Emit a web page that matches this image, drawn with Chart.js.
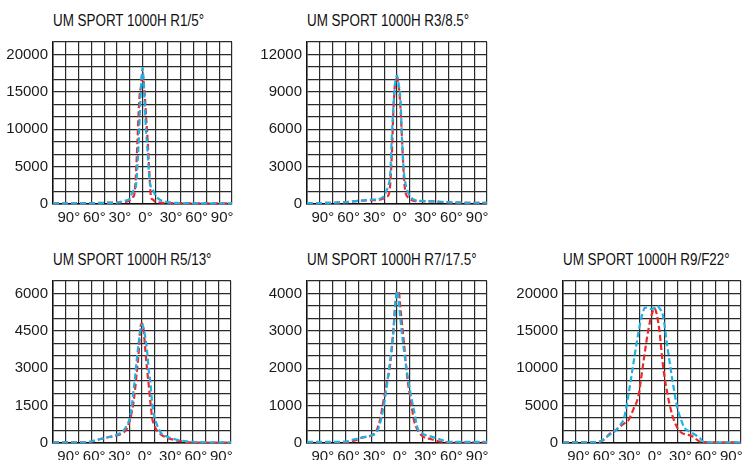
<!DOCTYPE html>
<html>
<head>
<meta charset="utf-8">
<script src="https://cdn.jsdelivr.net/npm/chart.js@4.4.0/dist/chart.umd.min.js"></script>
<style>
html,body{margin:0;padding:0;background:#fff;overflow:hidden;width:746px;height:460px}
.t{position:absolute;font-family:"Liberation Sans",Arial,sans-serif;font-size:16px;line-height:16px;color:#111;white-space:nowrap;transform-origin:0 0}
canvas{position:absolute}
</style>
</head>
<body>
<script>
/* Beam profiles, UM SPORT 1000H optics — two planes per optic (cyan / red) */
const TITLES = ['UM SPORT 1000H R1/5°','UM SPORT 1000H R3/8.5°','UM SPORT 1000H R5/13°','UM SPORT 1000H R7/17.5°','UM SPORT 1000H R9/F22°'];

const X_LABEL_ANGLES = [-90,-60,-30,0,30,60,90];
const X_LABELS = ['90°','60°','30°','0°','30°','60°','90°'];

// R1/5°
const r1Angles = [-105,-90,-60,-40,-30,-20,-15,-12,-10,-8,-6,-4,-3,-2,-1,0,1,2,3,4,6,8,10,12,15,20,30,40,60,90,105];
const r1Cyan   = [80,80,100,150,200,450,700,1500,1900,2200,5000,9500,12500,15000,17000,18200,17000,15000,12500,10000,7000,3500,2200,1900,1200,600,250,150,100,80,80];
const r1Red    = [80,80,120,180,200,280,500,900,1100,3300,8200,13500,15000,15500,16800,17600,16800,15500,14000,12000,8600,4300,900,600,300,200,150,120,100,80,80];
const r1YLabels = [0,5000,10000,15000,20000];

// R3/8.5°
const r3Angles = [-105,-90,-60,-45,-30,-20,-15,-12,-10,-8,-6,-4,-2,0,2,4,6,8,10,12,15,20,30,45,60,90,105];
const r3Cyan   = [80,80,150,250,350,420,650,1100,1500,2300,5500,8000,9800,10300,9600,8400,5000,2600,1600,1100,650,350,250,200,150,100,100];
const r3Red    = [80,80,150,250,300,350,450,600,700,1500,4000,7800,9800,10060,9500,7800,5000,2200,900,600,400,250,220,200,120,100,100];
const r3YLabels = [0,3000,6000,9000,12000];

// R5/13°
const r5Angles = [-105,-90,-75,-60,-50,-40,-30,-22,-18,-14,-12,-10,-8,-6,-4,-2,0,2,4,6,8,10,12,14,18,22,30,40,50,60,75,90,105];
const r5Cyan   = [30,30,30,60,150,230,330,490,700,1060,1500,2100,2700,3400,4000,4500,4750,4600,4200,3700,2900,2400,1600,1140,700,420,250,140,80,50,30,30,30];
const r5Red    = [30,30,30,60,150,230,300,420,560,950,1250,1650,2200,2900,3600,4600,4800,4500,3700,2950,2300,1600,1000,750,480,350,200,110,50,20,20,20,20];
const r5YLabels = [0,1500,3000,4500,6000];

// R7/17.5°
const r7Angles = [-105,-90,-75,-60,-50,-40,-30,-24,-20,-16,-12,-8,-4,-2,0,2,4,8,12,16,20,24,30,40,50,60,75,90,105];
const r7Cyan   = [30,30,30,40,100,150,200,280,500,930,1500,2200,3000,3700,4070,3800,3300,2500,1850,1300,850,400,250,170,100,30,30,30,30];
const r7Red    = [20,20,20,20,60,150,200,330,600,1100,1600,2100,3100,3700,4050,4050,3600,2700,1750,1150,590,350,180,100,40,20,20,20,20];
const r7YLabels = [0,1000,2000,3000,4000];

// R9/F22°
const r9Angles = [-105,-90,-75,-62,-56,-50,-43,-39,-33,-28,-22,-16,-12,-8,-4,0,3,6,9,13,18,24,30,34,38,45,49,56,61,75,90,105];
const r9Cyan   = [100,100,100,150,600,1100,1650,2200,3350,6300,10600,14800,17000,18100,18000,17900,18100,18350,18000,17000,13000,8450,4630,3200,2080,1500,1240,700,150,100,100,100];
const r9Red    = [100,100,100,200,500,1240,1700,2080,2600,3000,4500,6300,9300,12500,15300,17300,18000,17000,14800,10300,6700,3700,2000,1440,1200,1020,800,200,120,100,100,100];
const r9YLabels = [0,5000,10000,15000,20000];

const CYAN = '#1fb1e6';
const RED = '#ec2a2e';
const GRID = '#2a2a2a';

// plot area boxes in page pixels: left, top, right, bottom
const PANELS = [
  { title: TITLES[0], angles: r1Angles, cyan: r1Cyan, red: r1Red, yLabels: r1YLabels, box: [53,34,236,204] },
  { title: TITLES[1], angles: r3Angles, cyan: r3Cyan, red: r3Red, yLabels: r3YLabels, box: [307,34,491,204] },
  { title: TITLES[2], angles: r5Angles, cyan: r5Cyan, red: r5Red, yLabels: r5YLabels, box: [53,273,235,443] },
  { title: TITLES[3], angles: r7Angles, cyan: r7Cyan, red: r7Red, yLabels: r7YLabels, box: [307,273,491,443] },
  { title: TITLES[4], angles: r9Angles, cyan: r9Cyan, red: r9Red, yLabels: r9YLabels, box: [563,273,745,443] }
];

const PADT = 6, YW = 53, XH = 26, PADR = 1;
const TITLE1_WIDTH = 151; // width of the first title in the picture
let titleScale = null;

function build(p){
  const [L,T,R,B] = p.box;
  const t = document.createElement('div');
  t.className = 't'; t.textContent = p.title;
  t.style.left = L + 'px'; t.style.top = (T - 21) + 'px';
  document.body.appendChild(t);
  // condensed look: squeeze horizontally, same factor for every title
  if (titleScale === null) titleScale = TITLE1_WIDTH / t.getBoundingClientRect().width;
  t.style.transform = 'scaleX(' + titleScale + ')';

  const cv = document.createElement('canvas');
  cv.width = (R - L) + YW + PADR; cv.height = (B - T) + PADT + XH;
  cv.style.left = (L - YW) + 'px'; cv.style.top = (T - PADT) + 'px';
  document.body.appendChild(cv);

  const step = (p.yLabels[1] - p.yLabels[0]) / 3;
  const yTicks = []; for (let k = 0; k <= 13; k++) yTicks.push(k * step);
  const xTicks = []; for (let a = -105; a <= 105; a += 15) xTicks.push(a);
  const pts = arr => p.angles.map((a,i) => ({ x: a, y: arr[i] }));

  new Chart(cv, {
    type: 'line',
    data: { datasets: [
      { data: pts(p.cyan), borderColor: CYAN, borderDash: [6,3], clip: false },
      { data: pts(p.red),  borderColor: RED,  borderDash: [6,3], clip: false }
    ]},
    options: {
      responsive: false, animation: false, devicePixelRatio: 1,
      layout: { padding: { top: PADT, right: PADR, left: 0, bottom: 0 } },
      plugins: { legend: { display: false }, tooltip: { enabled: false } },
      elements: { point: { radius: 0 }, line: { borderWidth: 2.2, cubicInterpolationMode: 'monotone' } },
      scales: {
        x: {
          type: 'linear', min: -105, max: 105,
          afterBuildTicks: s => { s.ticks = xTicks.map(v => ({ value: v })); },
          afterFit: s => { s.height = XH; },
          grid: { color: GRID, lineWidth: 1.2, drawTicks: false },
          border: { color: '#111', width: 1.5 },
          ticks: { autoSkip: false, maxRotation: 0, padding: 5, labelOffset: 3, color: '#1a1a1a',
                   font: { family: 'Liberation Sans', size: 15 },
                   callback: v => { const k = X_LABEL_ANGLES.indexOf(v); return k < 0 ? '' : X_LABELS[k]; } }
        },
        y: {
          min: 0, max: 13 * step,
          afterBuildTicks: s => { s.ticks = yTicks.map(v => ({ value: v })); },
          afterFit: s => { s.width = YW; },
          grid: { color: GRID, lineWidth: 1.2, drawTicks: false },
          border: { color: '#111', width: 1.5 },
          ticks: { autoSkip: false, padding: 5, color: '#1a1a1a',
                   font: { family: 'Liberation Sans', size: 15 },
                   callback: v => { const hit = p.yLabels.find(l => Math.abs(l - v) < 1e-6 * (step + 1) + 0.01); return hit === undefined ? '' : String(hit); } }
        }
      }
    }
  });
}

PANELS.forEach(build);
</script>
</body>
</html>
